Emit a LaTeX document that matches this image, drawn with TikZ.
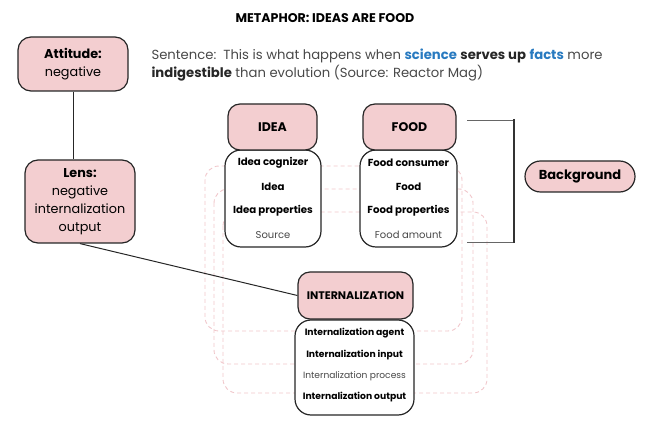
\documentclass[tikz,border=0pt]{standalone}
\usepackage{fontspec}
\setmainfont{Poppins}
\setsansfont{Poppins}
\usetikzlibrary{positioning}
\definecolor{rosefill}{RGB}{243,206,208}
\definecolor{roseline}{RGB}{240,198,202}
\definecolor{factblue}{RGB}{40,122,192}
\definecolor{textgray}{RGB}{72,72,72}

\begin{document}
\begin{tikzpicture}[
  x=1pt,y=-1pt,
  font=\sffamily,
  head/.style={draw=black!85,line width=1.2pt,fill=rosefill,rounded corners=12pt,inner sep=0pt,align=center,font=\bfseries\fontsize{12.5}{14}\selectfont},
  slots/.style={draw=black!85,line width=1.2pt,fill=white,rounded corners=16pt,inner sep=0pt},
  slot/.style={font=\bfseries\fontsize{10.2}{12}\selectfont},
  weak/.style={font=\fontsize{10}{12}\selectfont,text=textgray},
  side/.style={draw=black!85,line width=1.2pt,fill=rosefill,rounded corners=13pt,inner sep=0pt,align=center,font=\fontsize{12.8}{18}\selectfont},
  link/.style={draw=roseline,line width=0.9pt,dash pattern=on 4pt off 3pt,rounded corners=14pt}
]
\useasboundingbox (0,0) rectangle (648,427);

% dashed links between the slots
\draw[link] (205,166) rectangle (462,331);
\draw[link] (214,189) rectangle (473,364);
\draw[link] (223,212) rectangle (487,393);

\node[font=\bfseries\fontsize{12.6}{14}\selectfont] (title) at (325,18) {METAPHOR: IDEAS ARE FOOD};

\node[anchor=base west,align=left,text=textgray,font=\fontsize{13.2}{18}\selectfont] (sent) at (148,78)
  {Sentence:\ \ This is what happens when \textcolor{factblue}{\bfseries science} {\bfseries\color{black!85}serves up} \textcolor{factblue}{\bfseries facts} more\\
   {\bfseries\color{black!85}indigestible} than evolution (Source: Reactor Mag)};

% left column
\node[side,minimum width=110,minimum height=54] (att) at (73,64) {\textbf{Attitude:}\\negative};
\node[side,minimum width=110,minimum height=83] (lens) at (80,201.5) {\textbf{Lens:}\\negative\\internalization\\output};
\draw[line width=1pt,black!85] (att.south) -- (att.south |- lens.north);

% idea
\node[slots,minimum width=96,minimum height=97] (ibox) at (273,198.5) {};
\node[head,minimum width=89,minimum height=46] (ihead) at (272.5,127) {IDEA};
\node[slot] (icog) at (273,163) {Idea cognizer};
\node[slot] (idea) at (273,187) {Idea};
\node[slot] (iprop) at (273,211) {Idea properties};
\node[weak] (isrc) at (273,235) {Source};

% food
\node[slots,minimum width=97,minimum height=97] (fbox) at (408.5,198.5) {};
\node[head,minimum width=93,minimum height=46] (fhead) at (409.5,127) {FOOD};
\node[slot] (fcons) at (408.5,163) {Food consumer};
\node[slot] (food) at (408.5,187) {Food};
\node[slot] (fprop) at (408.5,211) {Food properties};
\node[weak] (famt) at (408.5,235) {Food amount};

% internalization
\node[slots,minimum width=119,minimum height=95] (nbox) at (354.5,367.5) {};
\node[head,minimum width=115,minimum height=47,font=\bfseries\fontsize{11}{13}\selectfont] (nhead) at (355.5,295.5) {INTERNALIZATION};
\node[slot,font=\bfseries\fontsize{9.2}{11}\selectfont] (nagent) at (354.5,333) {Internalization agent};
\node[slot,font=\bfseries\fontsize{9.2}{11}\selectfont] (ninput) at (354.5,355) {Internalization input};
\node[weak,font=\fontsize{9.1}{11}\selectfont] (nproc) at (354.5,376) {Internalization process};
\node[slot,font=\bfseries\fontsize{9.2}{11}\selectfont] (nout) at (354.5,397) {Internalization output};

\draw[line width=1pt,black!85] (lens.south) -- (nhead.west);

% background bracket
\draw[line width=0.8pt,black!60] (467,120) -- (514,120);
\draw[line width=0.8pt,black!60] (467,242) -- (514,242);
\draw[line width=2.6pt,black!80] (514,119) -- (514,243);
\node[head,rounded corners=15.5pt,minimum width=110,minimum height=31,font=\bfseries\fontsize{13}{15}\selectfont] (bg) at (580,176.5) {Background};
\end{tikzpicture}
\end{document}
